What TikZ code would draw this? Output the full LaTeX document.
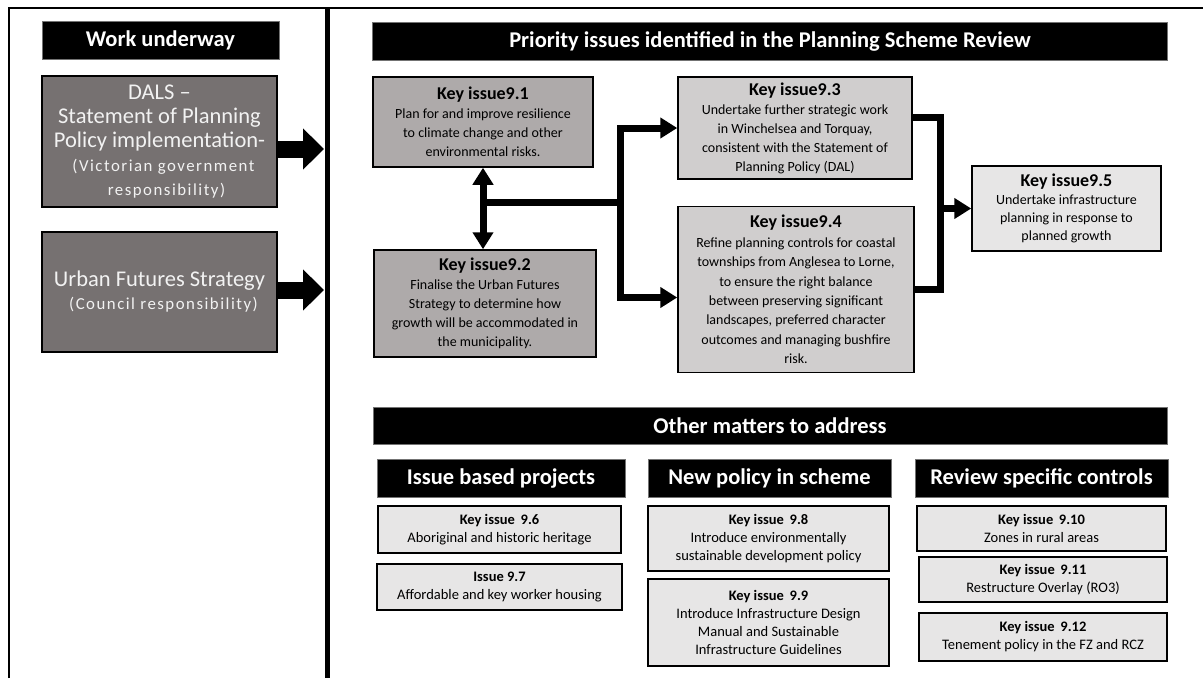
\documentclass[tikz,border=0pt]{standalone}
\usepackage{fontspec}
\setmainfont{Carlito}
\usetikzlibrary{arrows.meta}
\definecolor{boxdark}{HTML}{767171}
\definecolor{boxmid}{HTML}{AEAAAA}
\definecolor{boxlight}{HTML}{D0CECE}
\definecolor{boxpale}{HTML}{E7E6E6}
\newcommand\rsHdr{\fontsize{22.5}{25}\selectfont\bfseries}
\newcommand\rsTtl{\fontsize{18}{20}\selectfont\bfseries}
\newcommand\rsBody{\fontsize{14}{19}\selectfont}
\newcommand\rsLow{\fontsize{14.5}{18}\selectfont}
\newcommand\rsLowTtl{\bfseries}
\newcommand\rsSmall{\fontsize{16.8}{23}\selectfont\addfontfeature{LetterSpace=9}}
\begin{document}
\begin{tikzpicture}[x=1pt,y=-1pt,
  hdr/.style={fill=black, draw=black!55, line width=0.8pt, text=white, font=\rsHdr,
    inner sep=0pt, minimum height=38pt},
  kbox/.style={draw=black, line width=1.5pt, inner sep=0pt, align=center, text=black},
  workbox/.style={kbox, fill=boxdark, text=white!95!black},
  topbox/.style={kbox, font=\rsBody},
  lowbox/.style={kbox, fill=boxpale, font=\rsLow},
  conn/.style={line width=7pt, line join=miter, draw=black},
  tip/.style={-{Triangle[width=20pt,length=17pt]}},
  blockarrow/.style={line width=17pt, draw=black, -{Triangle[width=40pt,length=21pt]}}]
\useasboundingbox (0,0) rectangle (1203,678);
% frame and divider
\draw[line width=1.2pt] (9,678) -- (9,8) -- (1203,8);
\draw[line width=5pt] (327.5,8) -- (327.5,678);
\coordinate (div) at (324,0);

% left column
\node[hdr, minimum width=237pt] (hwork) at (160.5,40.5) {Work underway};
\node[workbox, minimum width=235pt, minimum height=131pt, font=\fontsize{22.5}{24}\selectfont] (dals) at (159.5,141.5)
  {DALS –\\Statement of Planning\\Policy implementation-\\
   {\rsSmall\hspace*{8pt}(Victorian government}\\{\rsSmall\hspace*{14pt}responsibility)}};
\node[workbox, minimum width=235pt, minimum height=120pt, font=\fontsize{22.5}{23}\selectfont] (urban) at (159.5,292)
  {Urban Futures Strategy\\{\rsSmall\hspace*{8pt}(Council responsibility)}};
\coordinate (da) at ([yshift=-7.5pt]dals.east);
\coordinate (ua) at ([yshift=2pt]urban.east);
\draw[blockarrow] (da) -- (da -| div);
\draw[blockarrow] (ua) -- (ua -| div);

% priority issues
\node[hdr, minimum width=795pt] (hprio) at (770,41) {Priority issues identified in the Planning Scheme Review};
\node[topbox, fill=boxmid, minimum width=220pt, minimum height=90pt] (k91) at (483,122)
  {{\rsTtl Key issue9.1}\\Plan for and improve resilience\\to climate change and other\\environmental risks.};
\node[topbox, fill=boxmid, minimum width=222pt, minimum height=107pt] (k92) at (485,303.5)
  {{\rsTtl Key issue9.2}\\Finalise the Urban Futures\\Strategy to determine how\\growth will be accommodated in\\the municipality.};
\node[topbox, fill=boxlight, minimum width=234pt, minimum height=102pt] (k93) at (795,128)
  {{\rsTtl Key issue9.3}\\Undertake further strategic work\\in Winchelsea and Torquay,\\consistent with the Statement of\\Planning Policy (DAL)};
\node[topbox, fill=boxlight, minimum width=236pt, minimum height=166pt, font=\fontsize{14}{19.4}\selectfont] (k94) at (796,289.5)
  {{\rsTtl Key issue9.4}\\Refine planning controls for coastal\\townships from Anglesea to Lorne,\\to ensure the right balance\\between preserving significant\\landscapes, preferred character\\outcomes and managing bushfire\\risk.};
\node[topbox, fill=boxpale, minimum width=189pt, minimum height=85pt, font=\fontsize{14}{18}\selectfont] (k95) at (1066.5,208.5)
  {{\rsTtl Key issue9.5}\\Undertake infrastructure\\planning in response to\\planned growth};

% connectors
\draw[conn, {Triangle[width=20pt,length=17pt]}-{Triangle[width=20pt,length=17pt]}]
  (k91.south) -- (k91.south |- k92.north);
\coordinate (j1) at (483,202.5);
\coordinate (j2) at (620,202.5);
\draw[conn] (j1) -- (j2);
\draw[conn, tip] (j2) |- (k93.west);
\coordinate (k94w) at ([yshift=-8pt]k94.west);
\draw[conn, tip] (j2) |- (k94w);
\coordinate (k93e) at ([yshift=11pt]k93.east);
\coordinate (rx) at (940.5,0);
\draw[conn] (k93e) -| (rx |- k94.east) -- (k94.east);
\draw[conn, tip] (rx |- k95.west) -- (k95.west);

% other matters
\node[hdr, minimum width=794pt, minimum height=37pt] (hother) at (770,425.5) {Other matters to address};
\node[hdr, minimum width=248pt] (hsub1) at (501,478) {Issue based projects};
\node[hdr, minimum width=243pt] (hsub2) at (769.5,478) {New policy in scheme};
\node[hdr, minimum width=253pt] (hsub3) at (1041.5,478) {Review specific controls};

\node[lowbox, minimum width=243pt, minimum height=47pt] (k96) at (499.5,529.5)
  {{\rsLowTtl Key issue~\,9.6}\\Aboriginal and historic heritage};
\node[lowbox, minimum width=245pt, minimum height=46pt] (k97) at (499.5,587)
  {{\rsLowTtl Issue 9.7}\\Affordable and key worker housing};
\node[lowbox, minimum width=241pt, minimum height=65pt] (k98) at (768.5,538.5)
  {{\rsLowTtl Key issue~\,9.8}\\Introduce environmentally\\sustainable development policy};
\node[lowbox, minimum width=241pt, minimum height=87pt] (k99) at (768.5,622.5)
  {{\rsLowTtl Key issue~\,9.9}\\Introduce Infrastructure Design\\Manual and Sustainable\\Infrastructure Guidelines};
\node[lowbox, minimum width=249pt, minimum height=45pt] (k910) at (1041.5,528.5)
  {{\rsLowTtl Key issue~\,9.10}\\Zones in rural areas};
\node[lowbox, minimum width=248pt, minimum height=45pt] (k911) at (1043,579.5)
  {{\rsLowTtl Key issue~\,9.11}\\Restructure Overlay (RO3)};
\node[lowbox, minimum width=248pt, minimum height=48pt] (k912) at (1043,637)
  {{\rsLowTtl Key issue~\,9.12}\\Tenement policy in the FZ and RCZ};
\end{tikzpicture}
\end{document}
